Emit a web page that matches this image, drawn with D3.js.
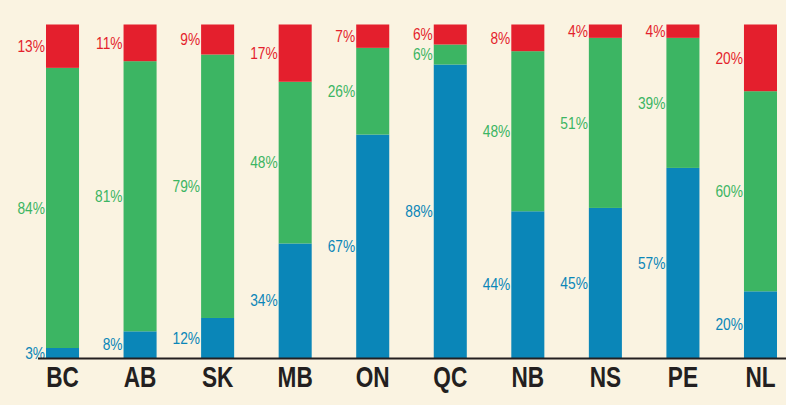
<!DOCTYPE html>
<html>
<head>
<meta charset="utf-8">
<script src="https://cdn.jsdelivr.net/npm/d3@7"></script>
<style>
  html, body { margin: 0; padding: 0; background: #faf3e1; }
  svg { display: block; }
  .pct { font-family: "Liberation Sans", Arial, sans-serif; font-size: 16px; }
  .cat text { font-family: "Liberation Sans", Arial, sans-serif; font-weight: bold; font-size: 29px; fill: #231f20; }
</style>
</head>
<body>
<svg id="chart" width="786" height="405"></svg>
<script>
// share of each province, bottom to top: blue, green, red
const provinces = ["BC", "AB", "SK", "MB", "ON", "QC", "NB", "NS", "PE", "NL"];
const blueVals  = [3, 8, 12, 34, 67, 88, 44, 45, 57, 20];
const greenVals = [84, 81, 79, 48, 26, 6, 48, 51, 39, 60];
const redVals   = [13, 11, 9, 17, 7, 6, 8, 4, 4, 20];

const seriesKeys = ["blue", "green", "red"];
const colors = {blue: "#0a86b8", green: "#3cb563", red: "#e41f2d"};

const rows = provinces.map((p, i) => ({
  prov: p, blue: blueVals[i], green: greenVals[i], red: redVals[i]
}));

const svg = d3.select("#chart"),
      baseY = 358,
      topY = 24.5;

const x = d3.scaleBand()
    .domain(provinces)
    .range([46, 777])
    .paddingInner(0.574)
    .paddingOuter(0);

const y = d3.scaleLinear().domain([0, 1]).range([baseY, topY]);

const stacked = d3.stack()
    .keys(seriesKeys)
    .offset(d3.stackOffsetExpand)(rows);

const layers = svg.selectAll(".layer")
    .data(stacked)
    .enter().append("g")
    .attr("class", "layer")
    .attr("fill", d => colors[d.key]);

layers.selectAll("rect")
    .data(d => d)
    .enter().append("rect")
    .attr("x", d => x(d.data.prov))
    .attr("y", d => y(d[1]))
    .attr("width", x.bandwidth())
    .attr("height", d => y(d[0]) - y(d[1]));

// percent labels sit just left of each segment, centred vertically
// (no narrow font installed, so squeeze the regular one)
layers.selectAll("text")
    .data(d => d.map(s => ({s: s, key: d.key})))
    .enter().append("text")
    .attr("class", "pct")
    .attr("transform", d => `translate(${x(d.s.data.prov) - 1},${(y(d.s[0]) + y(d.s[1])) / 2}) scale(0.86,1)`)
    .attr("dy", "0.36em")
    .attr("text-anchor", "end")
    .attr("fill", d => colors[d.key])
    .text(d => d.s.data[d.key] + "%");

svg.append("line")
    .attr("x1", 38).attr("x2", 786)
    .attr("y1", baseY + 0.5).attr("y2", baseY + 0.5)
    .attr("stroke", "#231f20")
    .attr("stroke-width", 2);

const xAxis = svg.append("g")
    .attr("class", "cat")
    .attr("transform", `translate(0,${baseY})`)
    .call(d3.axisBottom(x).tickSize(0).tickPadding(8));
xAxis.select(".domain").remove();
xAxis.selectAll("text").attr("transform", "scale(0.78,1)");
</script>
</body>
</html>
